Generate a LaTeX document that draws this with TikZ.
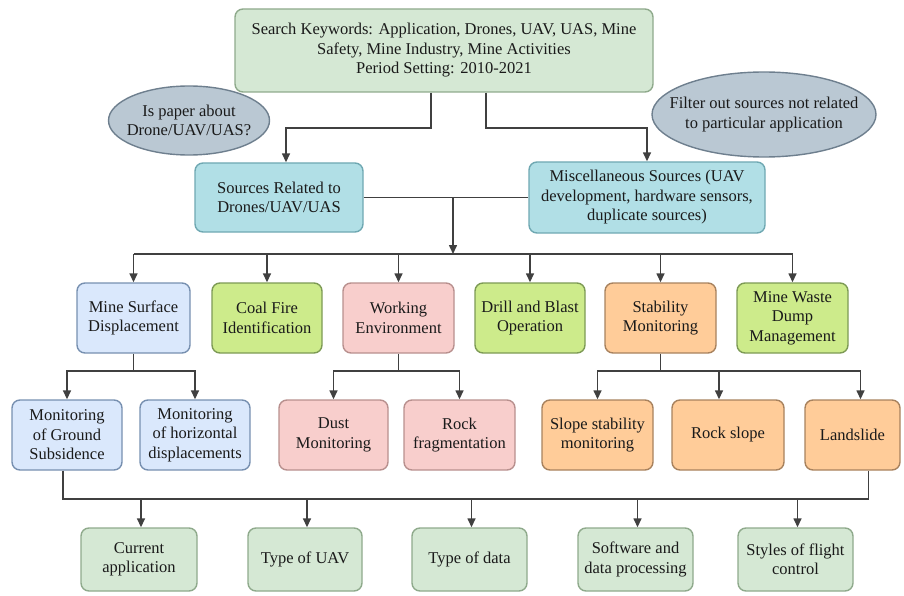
\documentclass[tikz,border=0pt]{standalone}
\usepackage{fontspec}
\setmainfont{Liberation Serif}
\newfontfamily\tnrfont{Liberation Serif}
\usetikzlibrary{arrows.meta,shapes.geometric}
\definecolor{lgreenF}{HTML}{D5E8D4}\definecolor{lgreenD}{HTML}{8FAA8C}
\definecolor{cyanF}{HTML}{B1DFE6}\definecolor{cyanD}{HTML}{6FA8B2}
\definecolor{blueF}{HTML}{DAE8FC}\definecolor{blueD}{HTML}{7790B0}
\definecolor{limeF}{HTML}{CDEB8B}\definecolor{limeD}{HTML}{7D9A55}
\definecolor{pinkF}{HTML}{F8CECC}\definecolor{pinkD}{HTML}{B8908E}
\definecolor{orangeF}{HTML}{FFCC99}\definecolor{orangeD}{HTML}{A8825E}
\definecolor{ellF}{HTML}{BAC8D3}\definecolor{ellD}{HTML}{6E7F8E}
\definecolor{lineC}{HTML}{404040}
\definecolor{txtC}{HTML}{1A1A1A}
\tikzset{
  box/.style={rectangle, rounded corners=8pt, line width=1.4pt, align=center, inner sep=0pt, text=txtC,
    font=\tnrfont\fontsize{16.5}{19.5}\selectfont},
  gbox/.style={box, fill=lgreenF, draw=lgreenD},
  cbox/.style={box, fill=cyanF, draw=cyanD},
  bbox/.style={box, fill=blueF, draw=blueD},
  limebox/.style={box, fill=limeF, draw=limeD},
  pbox/.style={box, fill=pinkF, draw=pinkD},
  obox/.style={box, fill=orangeF, draw=orangeD},
  ell/.style={ellipse, fill=ellF, draw=ellD, line width=1.4pt, align=center, inner ysep=0pt, text=txtC,
    font=\tnrfont\fontsize{16.5}{19.5}\selectfont},
  ln/.style={draw=lineC, line width=1.5pt},
  arr/.style={ln, -{Triangle[length=9pt,width=8pt]}},
}
\begin{document}
\begin{tikzpicture}[x=1pt,y=-1pt]
\useasboundingbox (0,0) rectangle (904,596);
% top
\node[gbox, minimum width=418pt, minimum height=83pt] (top) at (444,50.5)
  {Search Keywords: Application, Drones, UAV, UAS, Mine\\Safety, Mine Industry, Mine Activities\\Period Setting: 2010-2021};
\node[ell, inner xsep=-7pt, minimum width=161pt, minimum height=69pt] (q1) at (189,120.5) {Is paper about\\Drone/UAV/UAS?};
\node[ell, inner xsep=-17pt, minimum width=224pt, minimum height=85pt] (q2) at (764,114.5) {Filter out sources not related\\to particular application};
% level 1
\node[cbox, minimum width=168pt, minimum height=69pt] (src) at (279,197.5) {Sources Related to\\Drones/UAV/UAS};
\node[cbox, minimum width=236pt, minimum height=71pt] (misc) at (647,197.5) {Miscellaneous Sources (UAV\\development, hardware sensors,\\duplicate sources)};
% level 2
\node[bbox, minimum width=113pt, minimum height=70pt] (msd) at (133.5,318) {Mine Surface\\Displacement};
\node[limebox, minimum width=110pt, minimum height=70pt] (coal) at (267,318) {Coal Fire\\Identification};
\node[pbox, minimum width=111pt, minimum height=70pt] (work) at (398.5,318) {Working\\Environment};
\node[limebox, minimum width=110pt, minimum height=70pt] (drill) at (530,318) {Drill and Blast\\Operation};
\node[obox, minimum width=111pt, minimum height=70pt] (stab) at (660.5,318) {Stability\\Monitoring};
\node[limebox, minimum width=111pt, minimum height=70pt] (waste) at (792.5,318) {Mine Waste\\Dump\\Management};
% level 3
\node[bbox, minimum width=110pt, minimum height=70pt] (ground) at (67,435) {Monitoring\\of Ground\\Subsidence};
\node[bbox, minimum width=110pt, minimum height=70pt] (horiz) at (195,435) {Monitoring\\of horizontal\\displacements};
\node[pbox, minimum width=109pt, minimum height=70pt] (dust) at (333.5,435) {Dust\\Monitoring};
\node[pbox, minimum width=111pt, minimum height=70pt] (frag) at (459.5,435) {Rock\\fragmentation};
\node[obox, minimum width=111pt, minimum height=70pt] (slope) at (597.5,435) {Slope stability\\monitoring};
\node[obox, minimum width=112pt, minimum height=70pt] (rslope) at (728,435) {Rock slope};
\node[obox, minimum width=95pt, minimum height=70pt] (land) at (852.5,435) {Landslide};
% level 4
\node[gbox, minimum width=116pt, minimum height=63pt] (cur) at (139,559.5) {Current\\application};
\node[gbox, minimum width=114pt, minimum height=63pt] (tuav) at (305,559.5) {Type of UAV};
\node[gbox, minimum width=115pt, minimum height=63pt] (tdata) at (469.5,559.5) {Type of data};
\node[gbox, minimum width=115pt, minimum height=63pt] (soft) at (635.5,559.5) {Software and\\data processing};
\node[gbox, minimum width=115pt, minimum height=63pt] (sty) at (795.5,559.5) {Styles of flight\\control};
% junction coordinates
\coordinate (t1) at (431,128);
\coordinate (t2) at (486,128);
\coordinate (bus1) at (453,254);
\coordinate (s1) at (0,371);
\coordinate (s2) at (0,499);
\coordinate (srcin) at ([xshift=7pt]src.north);
\coordinate (rsin) at ([xshift=-9pt]rslope.north);
\coordinate (landin) at ([xshift=8pt]land.north);
\coordinate (gout) at ([xshift=-4pt]ground.south);
\coordinate (lout) at ([xshift=16pt]land.south);
% connectors
\draw[arr] (top.south -| t1) -- (t1) -| (srcin);
\draw[arr] (top.south -| t2) -- (t2) -| (misc.north);
\draw[ln] (src.east) -- (misc.west);
\draw[arr] (src.east -| bus1) -- (bus1);
\draw[ln] (msd.north |- bus1) -- (waste.north |- bus1);
\foreach \n in {msd,coal,work,drill,stab,waste}
  \draw[arr] (\n.north |- bus1) -- (\n.north);
% sub-buses
\draw[ln] (msd.south) -- (msd.south |- s1);
\draw[arr] (msd.south |- s1) -| (ground.north);
\draw[arr] (msd.south |- s1) -| (horiz.north);
\draw[ln] (work.south) -- (work.south |- s1);
\draw[arr] (work.south |- s1) -| (dust.north);
\draw[arr] (work.south |- s1) -| (frag.north);
\draw[ln] (stab.south) -- (stab.south |- s1);
\draw[arr] (stab.south |- s1) -| (slope.north);
\draw[arr] (stab.south |- s1) -| (landin);
\draw[arr] (rsin |- s1) -- (rsin);
% bottom bus
\draw[ln] (gout) |- (lout |- s2) -- (lout);
\foreach \n in {cur,tuav,tdata,soft,sty}
  \draw[arr] ([xshift=2pt]\n.north |- s2) -- ([xshift=2pt]\n.north);
\end{tikzpicture}
\end{document}
